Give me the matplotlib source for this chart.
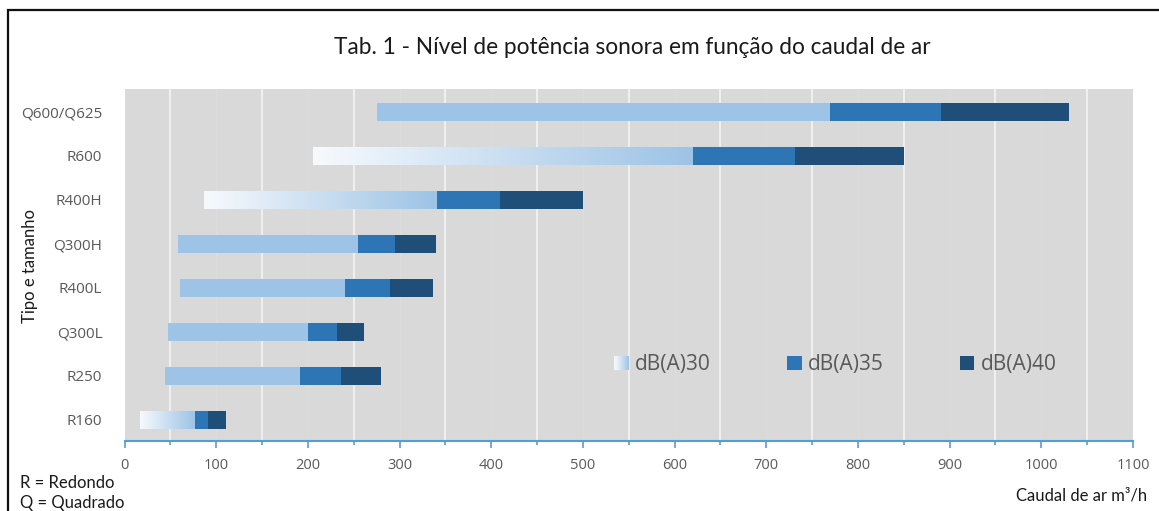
import numpy as np
import matplotlib
matplotlib.use("Agg")
import matplotlib.pyplot as plt
from matplotlib.colors import LinearSegmentedColormap
from matplotlib.patches import Rectangle, Patch
from matplotlib.legend_handler import HandlerBase
from matplotlib.ticker import MultipleLocator

# categories, bottom to top
categories = ["R160", "R250", "Q300L", "R400L", "Q300H", "R400H", "R600", "Q600/Q625"]
# airflow (m3/h) where each range starts / where each sound level is reached
q_start = [17, 44, 47, 61, 58, 87, 206, 275]
q_30 = [76, 191, 200, 241, 255, 341, 620, 770]
q_35 = [91, 236, 232, 290, 295, 410, 731, 891]
q_40 = [111, 280, 261, 336, 340, 500, 850, 1030]
gradient_rows = ["R160", "R400H", "R600"]  # dB(A)30 segment drawn with a fade
series_labels = ["dB(A)30", "dB(A)35", "dB(A)40"]

c30, c35, c40 = "#9dc3e6", "#2e75b6", "#1f4e79"
fade = LinearSegmentedColormap.from_list("fade", ["#f7fafd", "#9dc3e6"])

narrow = ["Lato", "DejaVu Sans"]
plt.rcParams["font.family"] = ["Open Sans", "DejaVu Sans"]

fig = plt.figure(figsize=(11.59, 5.11), dpi=100)
ax = fig.add_axes([124.5 / 1159, 1 - 441 / 511, 1008.5 / 1159, 352 / 511])
ax.set_facecolor("#d9d9d9")

y = np.arange(len(categories))
h = 0.41
start = np.array(q_start)
w30 = np.array(q_30) - start
w35 = np.array(q_35) - np.array(q_30)
w40 = np.array(q_40) - np.array(q_35)

b30 = ax.barh(y, w30, left=start, height=h, color=c30, zorder=3)
ax.barh(y, w35, left=q_30, height=h, color=c35, zorder=3)
ax.barh(y, w40, left=q_35, height=h, color=c40, zorder=3)

grad = np.linspace(0, 1, 256).reshape(1, -1)
for i, cat in enumerate(categories):
    if cat in gradient_rows:
        im = ax.imshow(grad, cmap=fade, aspect="auto", zorder=4,
                       extent=[q_start[i], q_30[i], y[i] - h / 2, y[i] + h / 2])
        im.set_clip_path(b30.patches[i])

ax.set_xlim(0, 1100)
ax.set_ylim(-0.48, 7.52)

# grid: bright lines on the odd 50s, faint ones on the hundreds (as in the source)
for gx in np.arange(50, 1100, 100):
    ax.axvline(gx, color="#f2f2f2", lw=1.3, zorder=1)
for gx in np.arange(100, 1100, 100):
    ax.axvline(gx, color="#dcdcdc", lw=1.0, zorder=1)

ax.xaxis.set_major_locator(MultipleLocator(100))
ax.xaxis.set_minor_locator(MultipleLocator(50))
ax.tick_params(axis="x", which="major", length=5, width=1.2, color="#5b9bd5",
               labelsize=10.5, labelcolor="#595959", pad=7)
ax.tick_params(axis="x", which="minor", length=3, width=1.2, color="#5b9bd5")
ax.set_yticks(y)
ax.set_yticklabels(categories)
ax.tick_params(axis="y", length=0, labelsize=11, labelcolor="#595959", pad=16)

for s in ["top", "right", "left"]:
    ax.spines[s].set_visible(False)
ax.spines["bottom"].set_color("#5b9bd5")
ax.spines["bottom"].set_linewidth(1.5)


class FadeHandler(HandlerBase):
    def create_artists(self, legend, orig_handle, xdescent, ydescent, width, height, fontsize, trans):
        n = 14
        return [Rectangle((-xdescent + k * width / n, -ydescent), width / n, height,
                          facecolor=fade((k + 0.5) / n), edgecolor="none", transform=trans)
                for k in range(n)]


handles = [Patch(facecolor=c30), Patch(facecolor=c35), Patch(facecolor=c40)]
leg = ax.legend(handles, series_labels, loc="center", bbox_to_anchor=(0.705, 0.216),
                ncol=3, frameon=False, fontsize=15, handlelength=0.7, handleheight=0.7,
                handletextpad=0.3, columnspacing=3.65,
                handler_map={handles[0]: FadeHandler()})
for t in leg.get_texts():
    t.set_color("#595959")

fig.text(632 / 1159, 1 - 47 / 511, "Tab. 1 - Nível de potência sonora em função do caudal de ar",
         ha="center", va="center", fontsize=16.3, family=narrow, color="#1a1a1a")
fig.text(30 / 1159, 1 - 266 / 511, "Tipo e tamanho", rotation=90, ha="center", va="center",
         fontsize=12, family=narrow, color="#1a1a1a")
fig.text(1147 / 1159, 1 - 495 / 511, "Caudal de ar m³/h", ha="right", va="center",
         fontsize=12, family=narrow, color="#1a1a1a")
fig.text(20 / 1159, 1 - 483 / 511, "R = Redondo", ha="left", va="center",
         fontsize=12, family=narrow, color="#1a1a1a")
fig.text(20 / 1159, 1 - 503 / 511, "Q = Quadrado", ha="left", va="center",
         fontsize=12, family=narrow, color="#1a1a1a")

# frame around the picture (cut at right and bottom)
fig.patches.append(Rectangle((8 / 1159, -0.1), 1.2, 1.1 - 10 / 511, transform=fig.transFigure,
                             fill=False, edgecolor="#111111", lw=1.6))

fig.savefig("out.png", dpi=100)
